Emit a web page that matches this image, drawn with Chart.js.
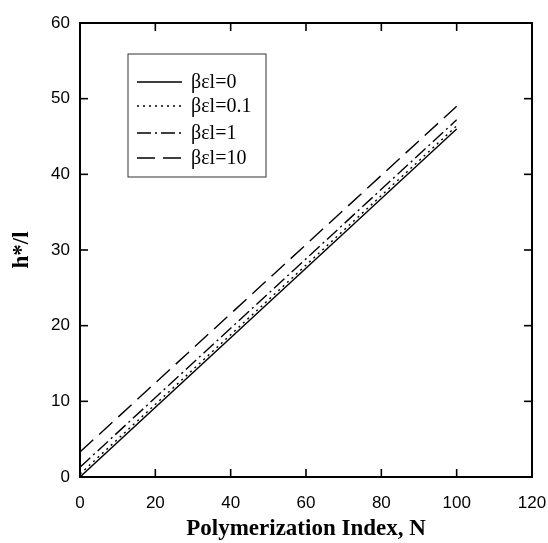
<!DOCTYPE html>
<html><head><meta charset="utf-8">
<script src="https://cdn.jsdelivr.net/npm/chart.js@4/dist/chart.umd.min.js"></script>
<style>html,body{margin:0;padding:0;background:#fff}#wrap{width:548px;height:543px}</style>
</head><body><div id="wrap"><canvas id="c" width="548" height="543"></canvas></div>
<script>
const nValues = [0, 100];
const labels = ["βεl=0", "βεl=0.1", "βεl=1", "βεl=10"];
const s0 = [0.0, 46.0];
const s01 = [0.4, 46.4];
const s1 = [1.3, 47.2];
const s10 = [3.3, 49.0];
const xTicks = [0, 20, 40, 60, 80, 100, 120];
const yTicks = [0, 10, 20, 30, 40, 50, 60];
const dashes = [[], [2, 4], [14, 4, 2, 4], [18, 8]];

const series = [s0, s01, s1, s10];
const datasets = series.map((s, i) => ({
  label: labels[i],
  data: s.map((v, j) => ({x: nValues[j], y: v})),
  borderColor: '#000', borderWidth: 1.4, borderDash: dashes[i],
  pointRadius: 0, fill: false, tension: 0
}));

const frame = {
  id: 'frame',
  afterDraw(chart) {
    const {ctx, chartArea: a, scales: {x, y}} = chart;
    ctx.save();
    ctx.strokeStyle = '#000';
    ctx.lineWidth = 2;
    ctx.strokeRect(a.left, a.top, a.right - a.left, a.bottom - a.top);
    ctx.lineWidth = 1.6;
    const L = 8;
    xTicks.forEach(v => {
      const px = x.getPixelForValue(v);
      ctx.beginPath(); ctx.moveTo(px, a.bottom); ctx.lineTo(px, a.bottom - L); ctx.stroke();
      ctx.beginPath(); ctx.moveTo(px, a.top); ctx.lineTo(px, a.top + L); ctx.stroke();
    });
    yTicks.forEach(v => {
      const py = y.getPixelForValue(v);
      ctx.beginPath(); ctx.moveTo(a.left, py); ctx.lineTo(a.left + L, py); ctx.stroke();
      ctx.beginPath(); ctx.moveTo(a.right, py); ctx.lineTo(a.right - L, py); ctx.stroke();
    });
    // legend
    const bx = 128, by = 54, bw = 138, bh = 123;
    ctx.lineWidth = 1;
    ctx.strokeStyle = '#333';
    ctx.strokeRect(bx, by, bw, bh);
    ctx.font = '20px "Liberation Serif", "Times New Roman", serif';
    ctx.fillStyle = '#000';
    ctx.textBaseline = 'middle';
    ctx.textAlign = 'left';
    const rows = [82, 106, 133, 158];
    chart.data.datasets.forEach((ds, i) => {
      const ry = rows[i];
      ctx.save();
      ctx.strokeStyle = '#000';
      ctx.lineWidth = 1.4;
      ctx.setLineDash(ds.borderDash || []);
      ctx.beginPath(); ctx.moveTo(137, ry); ctx.lineTo(182, ry); ctx.stroke();
      ctx.restore();
      ctx.fillText(ds.label, 191, ry + 1);
    });
    ctx.restore();
  }
};

new Chart(document.getElementById('c'), {
  type: 'line',
  data: {datasets},
  options: {
    responsive: false, animation: false,
    layout: {padding: {left: 0, right: 16, top: 23, bottom: 0}},
    plugins: {legend: {display: false}, tooltip: {enabled: false}},
    scales: {
      x: {
        type: 'linear', min: 0, max: 120,
        afterBuildTicks: s => { s.ticks = xTicks.map(v => ({value: v})); },
        afterFit: s => { s.height = 66; s.paddingRight = 0; s.paddingLeft = 0; },
        grid: {display: false}, border: {display: false},
        ticks: {color: '#000', padding: 8, maxRotation: 0, font: {family: '"Liberation Sans", Arial, sans-serif', size: 17}},
        title: {display: true, text: 'Polymerization Index, N', color: '#000', padding: {top: 4, bottom: 0},
          font: {family: '"Liberation Serif", "Times New Roman", serif', size: 23, weight: 'bold'}}
      },
      y: {
        type: 'linear', min: 0, max: 60,
        afterBuildTicks: s => { s.ticks = yTicks.map(v => ({value: v})); },
        afterFit: s => { s.width = 80; },
        grid: {display: false}, border: {display: false},
        ticks: {color: '#000', padding: 2, font: {family: '"Liberation Sans", Arial, sans-serif', size: 17}},
        title: {display: true, text: 'h*/l', color: '#000', padding: {top: 8, bottom: 0},
          font: {family: '"Liberation Serif", "Times New Roman", serif', size: 23, weight: 'bold'}}
      }
    }
  },
  plugins: [frame]
});
</script></body></html>
